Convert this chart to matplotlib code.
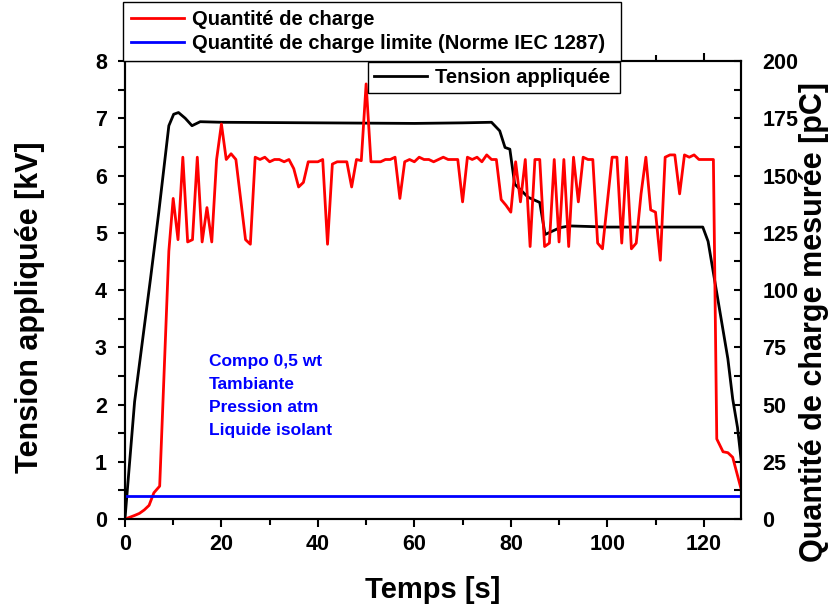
import matplotlib
matplotlib.use('Agg')
import matplotlib.pyplot as plt
from matplotlib.ticker import MultipleLocator

plt.rcParams['font.family'] = ['Liberation Sans', 'DejaVu Sans']
plt.rcParams['font.weight'] = 'bold'

# applied voltage (kV) vs time (s)
volt_t = [0, 2, 5.3, 7, 9.1, 10.1, 11.1, 12.5, 13.9, 15.6, 20, 40, 60, 70, 76,
          77.7, 78.8, 79.8, 80.8, 83.6, 86, 87.1, 90.2, 92.2, 100, 110, 119.8,
          120.9, 122, 123, 124, 125, 126, 127, 127.8]
volt_kv = [0, 2.05, 4.2, 5.35, 6.87, 7.07, 7.1, 7.0, 6.87, 6.94, 6.93, 6.92, 6.91,
           6.92, 6.93, 6.78, 6.49, 6.46, 5.85, 5.62, 5.53, 4.97, 5.09, 5.12, 5.1,
           5.1, 5.1, 4.85, 4.3, 3.8, 3.3, 2.8, 2.1, 1.6, 1.0]

# measured charge (pC) vs time (s)
charge_t = [0, 1, 2, 3, 4, 5, 6, 7.2, 9.1, 10, 11, 12, 13, 14, 15, 16, 17, 18, 19,
            20, 21, 22, 23, 25, 26, 27, 28, 29, 30, 31, 32, 33, 34, 35, 36, 37, 38,
            39, 40, 41, 42, 43, 44, 45, 46, 47, 48, 49, 50, 51, 52, 53, 54, 55, 56,
            57, 58, 59, 60, 61, 62, 63, 64, 65, 66, 67, 68, 69, 70, 71, 72, 73, 74,
            75, 76, 77, 78, 79, 80, 81, 82, 83, 84, 85, 86, 87, 88, 89, 90, 91, 92,
            93, 94, 95, 96, 97, 98, 99, 101, 102, 103, 104, 105, 106, 107, 108, 109,
            110, 111, 112, 113, 114, 115, 116, 117, 118, 119, 120, 121, 122, 122.7,
            124, 125, 126, 127.8]
charge_pc = [0, 0.8, 1.6, 2.5, 4, 6, 11.5, 14.4, 117, 140, 122, 158, 121, 122, 158,
             121, 136, 121, 157, 172.5, 157, 159.5, 157, 122, 120, 158, 157, 158,
             156, 157, 157, 156, 157, 153, 145, 147, 156, 156, 156, 157, 120, 155,
             156, 156, 156, 145, 157, 156.5, 190, 156, 156, 156, 157, 157, 158, 140,
             156, 157, 156, 158, 157, 157, 156, 157, 158, 157, 157, 157, 138.5, 158,
             157, 158, 156, 159, 157, 157, 139.5, 137, 134, 156, 138.5, 157, 119,
             157, 157, 119, 120.5, 157, 121, 157, 119, 158, 138.5, 158, 157, 157,
             120.5, 118, 158, 158, 120.5, 158, 118, 120.5, 142, 158, 135, 134, 113,
             158, 159, 159, 142, 159, 158, 159, 157, 157, 157, 157, 35, 29.4, 29,
             27, 12.7]

limit_t = [0, 127.8]
limit_pc = [10, 10]

info_lines = ['Compo 0,5 wt', 'Tambiante', 'Pression atm', 'Liquide isolant']

fig = plt.figure(figsize=(8.33, 6.1), dpi=100)
ax = fig.add_axes([0.150, 0.149, 0.740, 0.751])
ax2 = ax.twinx()

l_volt, = ax.plot(volt_t, volt_kv, color='black', lw=2, label='Tension appliquée')
l_q, = ax2.plot(charge_t, charge_pc, color='red', lw=2, label='Quantité de charge')
l_lim, = ax2.plot(limit_t, limit_pc, color='blue', lw=2,
                  label='Quantité de charge limite (Norme IEC 1287)')

ax.set_xlim(0, 127.8)
ax.set_ylim(0, 8)
ax2.set_ylim(0, 200)

ax.xaxis.set_major_locator(MultipleLocator(20))
ax.xaxis.set_minor_locator(MultipleLocator(10))
ax.yaxis.set_major_locator(MultipleLocator(1))
ax.yaxis.set_minor_locator(MultipleLocator(0.5))
ax2.yaxis.set_major_locator(MultipleLocator(25))
ax2.yaxis.set_minor_locator(MultipleLocator(12.5))

ax.tick_params(axis='x', which='both', direction='out', top=True, labelsize=15.5,
               width=1.5, pad=5)
ax.tick_params(axis='x', which='major', length=6)
ax.tick_params(axis='x', which='minor', length=4)
ax.tick_params(axis='y', which='both', direction='out', labelsize=15.5, width=1.5,
               length=5, pad=8)
ax2.tick_params(axis='y', which='both', direction='in', labelsize=15.5, width=1.5,
                length=5, pad=15)
for a in (ax, ax2):
    for s in a.spines.values():
        s.set_linewidth(1.5)

ax.set_xlabel('Temps [s]', fontsize=21, fontweight='bold')
ax.set_ylabel('Tension appliquée [kV]', fontsize=22, fontweight='bold')
ax2.set_ylabel('Quantité de charge mesurée [pC]', fontsize=22, fontweight='bold')
ax.xaxis.set_label_coords(0.5, -0.125)
ax.yaxis.set_label_coords(-0.13, 0.463)
ax2.yaxis.set_label_coords(1.093, 0.43)

for i, line in enumerate(info_lines):
    ax.text(0.136, 0.343 - i * 0.0496, line, transform=ax.transAxes, color='blue',
            fontsize=12.5, fontweight='bold', va='center')

leg1 = ax2.legend(handles=[l_q, l_lim], loc='lower left',
                  bbox_to_anchor=(-0.003, 0.999, 0.807, 0.1), mode='expand',
                  borderaxespad=0, fancybox=False, framealpha=1, edgecolor='black',
                  handlelength=2.6, handletextpad=0.4, labelspacing=0.25, borderpad=0.4,
                  prop={'weight': 'bold', 'size': 14.5})
leg1.get_frame().set_linewidth(1.0)
ax2.add_artist(leg1)
leg2 = ax2.legend(handles=[l_volt], loc='upper left',
                  bbox_to_anchor=(0.3945, 0.9, 0.409, 0.098), mode='expand',
                  borderaxespad=0, fancybox=False, framealpha=1, edgecolor='black',
                  handlelength=2.6, handletextpad=0.4, borderpad=0.3,
                  prop={'weight': 'bold', 'size': 14.5})
leg2.get_frame().set_linewidth(1.0)

fig.savefig('out.png', dpi=100)
